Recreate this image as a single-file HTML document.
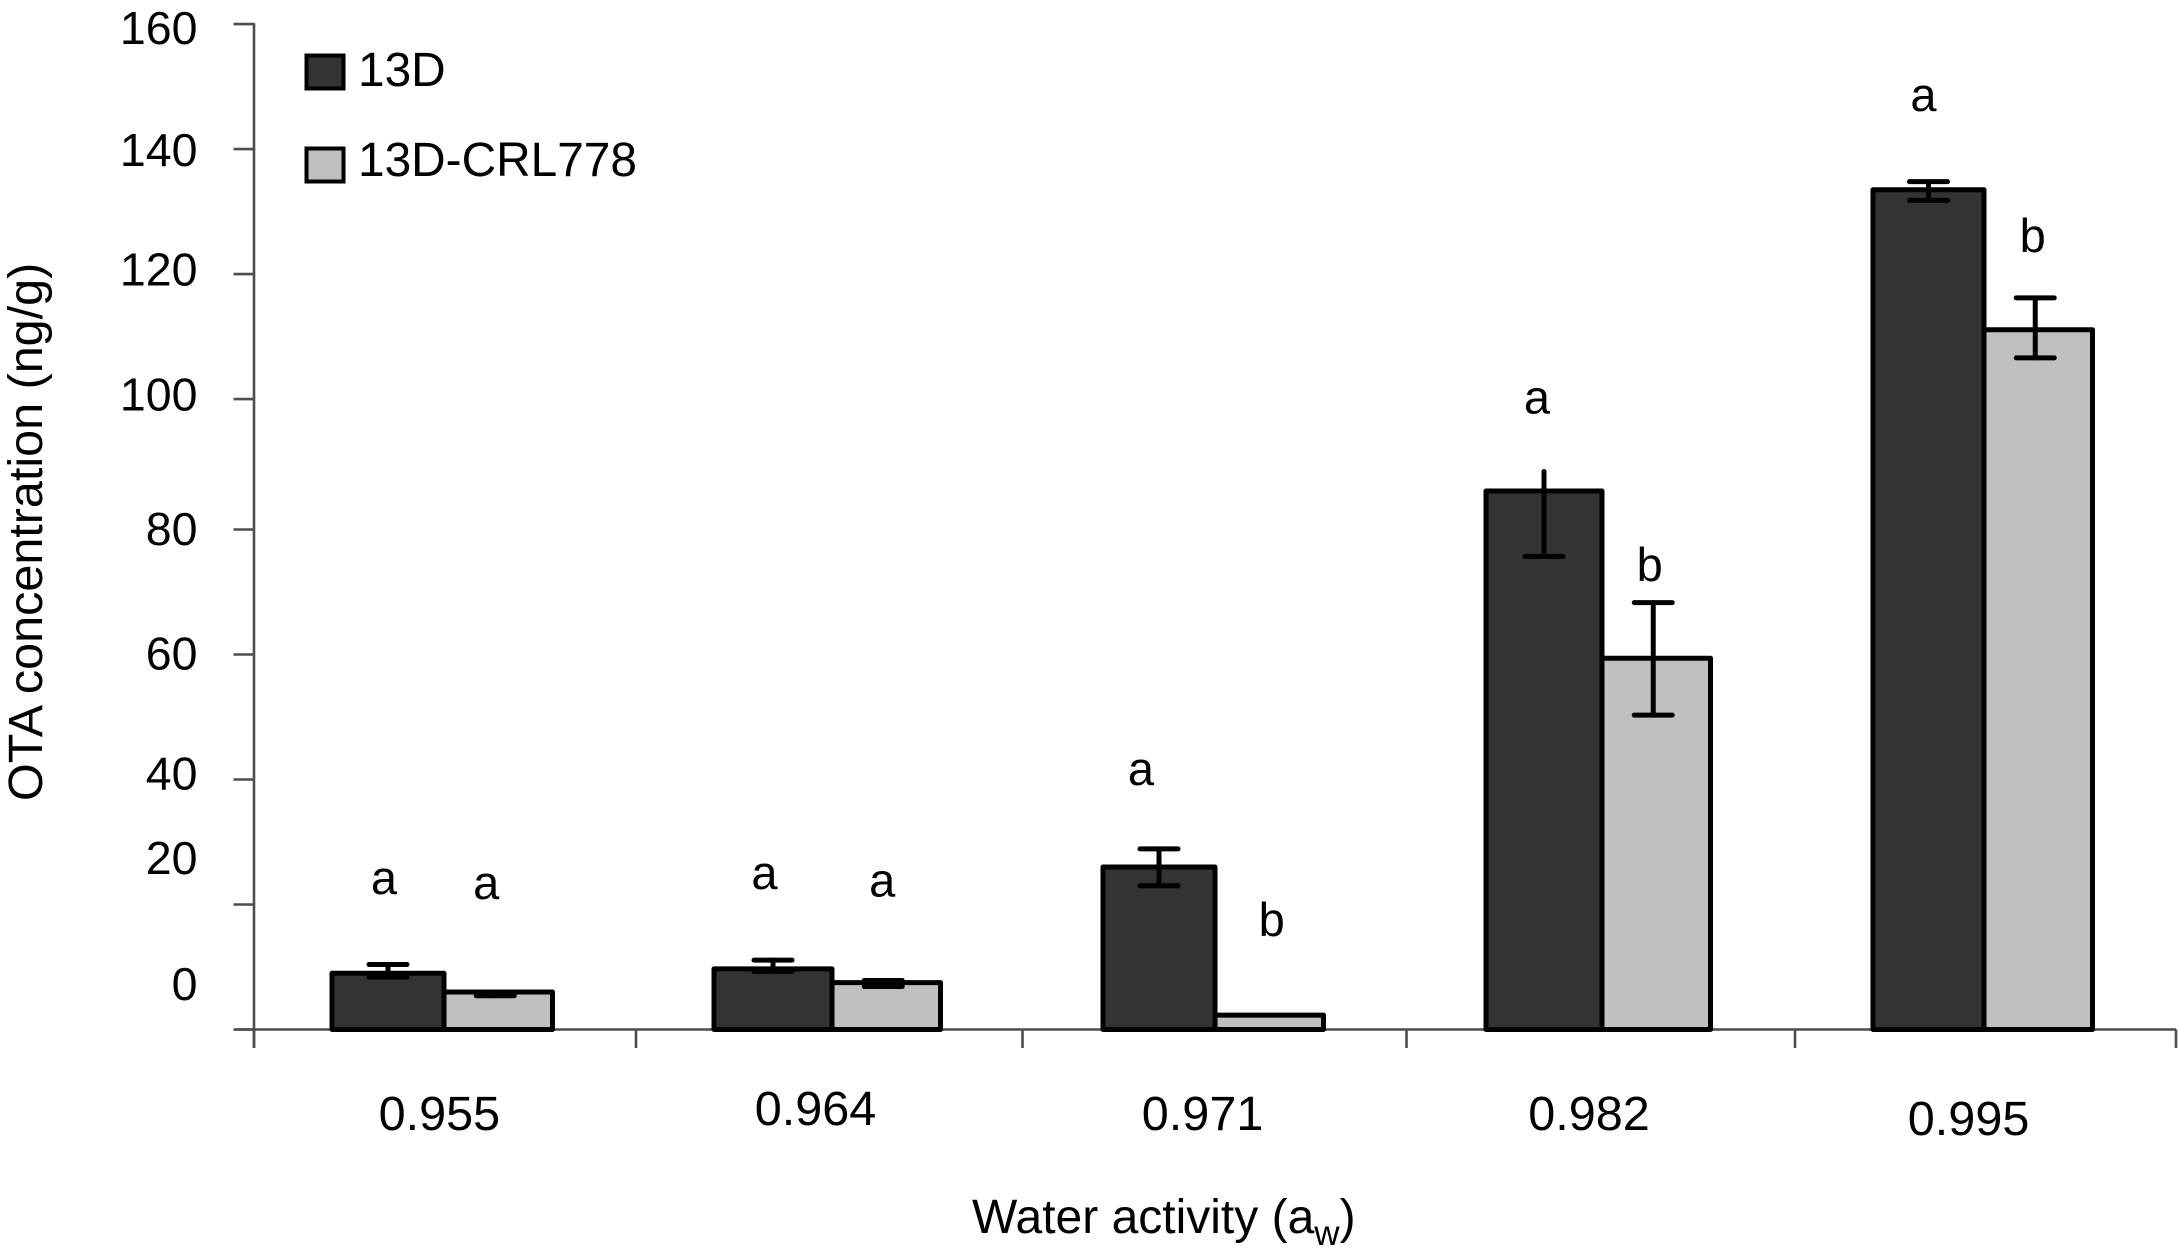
<!DOCTYPE html>
<html lang="en">
<head>
<meta charset="utf-8">
<title>OTA concentration by water activity</title>
<style>
html,body{margin:0;padding:0;background:#fff;width:2178px;height:1259px;overflow:hidden}
svg{display:block}
text{font-family:"Liberation Sans",sans-serif;fill:#000}
</style>
</head>
<body>
<svg id="chart" xmlns="http://www.w3.org/2000/svg" width="2178" height="1259" viewBox="0 0 2178 1259">
  <rect x="0" y="0" width="2178" height="1259" fill="#fff"/>
  <g id="axes"></g>
  <g id="bars"></g>
  <g id="errors"></g>
  <g id="letters"></g>
  <g id="labels"></g>
  <text transform="translate(42 801) rotate(-90)" font-size="48.5">OTA concentration (ng/g)</text>
  <text x="972" y="1233" font-size="48">Water activity (a<tspan font-size="35" dy="12">w</tspan><tspan dy="-12">)</tspan></text>
  <g>
    <rect x="306.5" y="55.5" width="37" height="33" fill="#333" stroke="#000" stroke-width="4"/>
    <text x="358" y="86" font-size="47.8">13D</text>
    <rect x="306.5" y="148.5" width="37" height="33" fill="#c0c0c0" stroke="#000" stroke-width="4"/>
    <text x="358" y="176" font-size="47.8">13D-CRL778</text>
  </g>
</svg>
<script>
// Data
const categories = ["0.955", "0.964", "0.971", "0.982", "0.995"];
const yTicks = [0, 20, 40, 60, 80, 100, 120, 140, 160];
const darkValues = [9.0, 9.7, 26.0, 85.9, 133.5];
const lightValues = [6.0, 7.5, 2.3, 59.4, 111.1];
const darkErrHigh = [10.4, 11.1, 28.9, 88.9, 134.8];
const darkErrLow = [8.4, 9.3, 23.0, 75.7, 131.8];
const lightErrHigh = [6.0, 7.84, null, 68.3, 116.2];
const lightErrLow = [5.4, 6.88, null, 50.3, 106.6];
const darkLetters = ["a", "a", "a", "a", "a"];
const lightLetters = ["a", "a", "b", "b", "b"];

// Layout (offsets only, independent of data)
const labelNudge = [-29.5, -30.4, 10, 15, 15.5, 11.4, 11.4, 17, 20];
const groupShift = [0, -3, 1, -1, 1];
const tickShift = [0, -2.4, -0.3, -0.7, 3.4, 0];
const darkWidth = [112, 118, 112, 116, 111];
const lightWidth = 108.5;
const categoryPlace = [[439.4, 1130], [815.5, 1125], [1202.6, 1130], [1589, 1130], [1968.6, 1135]];
const darkLetterDx = [-4, -8.5, -18, -7, -5];
const lightLetterDx = [-12, -4, 2.5, -6.5, -5.5];
const darkLetterGap = [70.7, 71, 64, 58, 70.6];
const lightLetterGap = [90, 84, 79, 21.4, 46];
const darkTopCap = [true, true, true, false, true];

const NS = "http://www.w3.org/2000/svg";
function y(v) {
  const jump = v >= 100 ? 5.4 : (v > 80 ? (v - 80) / 20 * 5.4 : 0);
  return 1029.5 - v * 6.25 - jump;
}
function groupLeft(i) { return 332 + 385 * i + groupShift[i]; }
function xTick(i) { return 254 + 384.4 * i + tickShift[i]; }

function make(tag, attrs, parent) {
  const el = document.createElementNS(NS, tag);
  for (const k in attrs) el.setAttribute(k, attrs[k]);
  parent.appendChild(el);
  return el;
}

const axes = document.getElementById("axes");
const barsG = document.getElementById("bars");
const errorsG = document.getElementById("errors");
const lettersG = document.getElementById("letters");
const labelsG = document.getElementById("labels");
const axisStyle = { stroke: "#4d4d4d", "stroke-width": 2.6, fill: "none" };

const yAxis = make("line", Object.assign({ x1: 254, x2: 254, y1: y(160) - 1, y2: 1048 }, axisStyle), axes);


const xAxis = make("line", Object.assign({ x1: 233.5, x2: 2176, y1: y(0), y2: y(0) }, axisStyle), axes);



yTicks.forEach(function (t, i) {
  const tick = make("line", Object.assign({ x1: 233.5, x2: 254, y1: y(t), y2: y(t) }, axisStyle), axes);
  
  
  const lab = make("text", { x: 197.5, y: y(t) + labelNudge[i], "text-anchor": "end", "font-size": 46.5 }, labelsG);
  lab.textContent = String(t);
  
  
});

for (let i = 0; i <= categories.length; i++) {
  const tick = make("line", Object.assign({ x1: xTick(i), x2: xTick(i), y1: y(0), y2: 1048 }, axisStyle), axes);
  
  
}

function drawError(cx, hi, lo, name, topCap) {
  if (hi === null || lo === null) return;
  const g = make("g", { stroke: "#000", "stroke-width": 5, "stroke-linecap": "round", fill: "none" }, errorsG);
  
  
  make("line", { x1: cx, x2: cx, y1: y(hi), y2: y(lo) }, g);
  if (topCap) make("line", { x1: cx - 19, x2: cx + 19, y1: y(hi), y2: y(hi) }, g);
  make("line", { x1: cx - 19, x2: cx + 19, y1: y(lo), y2: y(lo) }, g);
}

categories.forEach(function (c, i) {
  const left = groupLeft(i);
  const dw = darkWidth[i];
  const dark = make("rect", { x: left, y: y(darkValues[i]), width: dw, height: y(0) - y(darkValues[i]), fill: "#333", stroke: "#000", "stroke-width": 5, "stroke-linejoin": "round" }, barsG);
  
  
  const light = make("rect", { x: left + dw, y: y(lightValues[i]), width: lightWidth, height: y(0) - y(lightValues[i]), fill: "#c0c0c0", stroke: "#000", "stroke-width": 5, "stroke-linejoin": "round" }, barsG);
  
  

  const darkCx = left + dw / 2;
  const lightCx = left + dw + lightWidth / 2;
  drawError(darkCx, darkErrHigh[i], darkErrLow[i], "error-bar-13d-" + c, darkTopCap[i]);
  drawError(lightCx - 3, lightErrHigh[i], lightErrLow[i], "error-bar-13d-crl778-" + c, true);

  const la = make("text", { x: darkCx + darkLetterDx[i], y: y(darkErrHigh[i]) - darkLetterGap[i], "text-anchor": "middle", "font-size": 47 }, lettersG);
  la.textContent = darkLetters[i];
  
  

  const topLight = lightErrHigh[i] === null ? lightValues[i] : lightErrHigh[i];
  const lb = make("text", { x: lightCx + lightLetterDx[i], y: y(topLight) - lightLetterGap[i] + (i === 0 ? -3 : 0), "text-anchor": "middle", "font-size": 47 }, lettersG);
  lb.textContent = lightLetters[i];
  
  

  const cl = make("text", { x: categoryPlace[i][0], y: categoryPlace[i][1], "text-anchor": "middle", "font-size": 48.6 }, labelsG);
  cl.textContent = c;
  
  
});
</script>
</body>
</html>
